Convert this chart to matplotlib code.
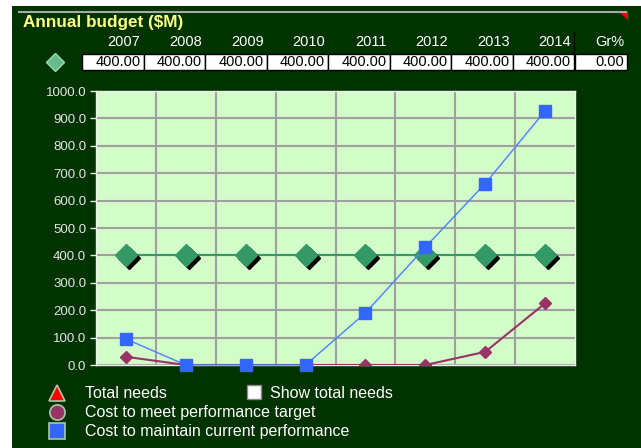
import numpy as np
import matplotlib.pyplot as plt
from matplotlib.patches import Rectangle, Polygon
from matplotlib.transforms import offset_copy

plt.rcParams['font.family'] = ['Liberation Sans', 'DejaVu Sans']

years = ['2007', '2008', '2009', '2010', '2011', '2012', '2013', '2014']
budget = [400.0, 400.0, 400.0, 400.0, 400.0, 400.0, 400.0, 400.0]
growth = 0.00
maintain = [95.0, 0.0, 0.0, 0.0, 190.0, 430.0, 662.0, 927.0]
target = [30.0, 0.0, 0.0, 0.0, 0.0, 0.0, 48.0, 225.0]

W, H = 641, 448
BG = '#003300'
PLOT_BG = '#d2fcc8'
GREEN = '#339966'
BLUE = '#3366ff'
PURPLE = '#993366'


def fx(x):
    return x / W


def fy(y):
    return 1 - y / H


fig = plt.figure(figsize=(W / 100, H / 100), dpi=100, facecolor='white')

# dark panel behind everything
fig.patches.append(Rectangle((fx(12), 0), 1 - fx(12), fy(6), transform=fig.transFigure,
                             facecolor=BG, edgecolor='none', zorder=-5))
# header rule and the little red corner flag
fig.add_artist(plt.Line2D([fx(19), fx(626)], [fy(12), fy(12)], color='#a8a8a8', lw=1.5))
fig.add_artist(Polygon([[fx(619), fy(12)], [fx(628), fy(12)], [fx(628), fy(20)]], closed=True,
                       transform=fig.transFigure, facecolor='#ff0000', edgecolor='none'))

fig.text(fx(23), fy(22), 'Annual budget ($M)', color='#ffff88', fontsize=12.3, fontweight='bold',
         va='center', ha='left')

# budget entry row
box_left, box_w = 82, 61.5
for i, (yr, val) in enumerate(zip(years, budget)):
    x0 = box_left + i * box_w
    fig.text(fx(x0 + box_w - 3), fy(42), yr, color='white', fontsize=10.5, ha='right', va='center')
    fig.patches.append(Rectangle((fx(x0), fy(70)), box_w / W, 16 / H, transform=fig.transFigure,
                                 facecolor='white', edgecolor='black', lw=1))
    fig.text(fx(x0 + box_w - 3), fy(62), '%.2f' % val, color='black', fontsize=10.5,
             ha='right', va='center')
gx = box_left + 8 * box_w
fig.add_artist(plt.Line2D([fx(gx), fx(gx)], [fy(32), fy(54)], color='black', lw=1))
fig.text(fx(gx + 50), fy(42), 'Gr%', color='white', fontsize=10.5, ha='right', va='center')
fig.patches.append(Rectangle((fx(gx + 1), fy(70)), 52 / W, 16 / H, transform=fig.transFigure,
                             facecolor='white', edgecolor='black', lw=1))
fig.text(fx(gx + 50), fy(62), '%.2f' % growth, color='black', fontsize=10.5, ha='right', va='center')
fig.add_artist(plt.Line2D([fx(55)], [fy(62)], marker='D', ms=9, color='#66bb88',
                          markeredgecolor='#99ddaa', lw=0))

# chart
ax = fig.add_axes([fx(96), fy(365), 479 / W, 274 / H], zorder=2)
ax.set_facecolor(PLOT_BG)
x = np.arange(len(years)) + 0.5
ax.set_xlim(0, len(years))
ax.set_ylim(0, 1000)
ax.set_yticks(np.arange(0, 1001, 100))
ax.set_yticklabels(['%.1f' % v for v in np.arange(0, 1001, 100)])
ax.set_xticks(np.arange(1, len(years)))
ax.set_xticklabels([])
ax.grid(True, color='#a0a0a0', lw=1.5)
ax.set_axisbelow(True)
ax.tick_params(axis='y', colors='#e6e6e6', labelsize=9.5, length=4, width=1, pad=3)
ax.tick_params(axis='x', length=0)
for s in ax.spines.values():
    s.set_color('#f0f0f0')
    s.set_linewidth(1)

ax.plot(x, budget, color=GREEN, lw=1.5, zorder=3)
shadow = offset_copy(ax.transData, fig=fig, x=3, y=-3, units='dots')
ax.plot(x, budget, 'D', ms=11, color='black', transform=shadow, zorder=4)
ax.plot(x, budget, 'D', ms=11, color=GREEN, zorder=5)
ax.plot(x, target, color=PURPLE, lw=1.5, marker='D', ms=6, zorder=6)
ax.plot(x, maintain, color='#4d80ff', lw=1, marker='s', ms=8, mfc=BLUE, mec=BLUE, zorder=7,
        clip_on=False)

# legend
leg_items = [('^', '#ff0000', 'Total needs', 393),
             ('o', PURPLE, 'Cost to meet performance target', 412),
             ('s', BLUE, 'Cost to maintain current performance', 431)]
for m, c, label, yy in leg_items:
    fig.add_artist(plt.Line2D([fx(57)], [fy(yy)], marker=m, ms=11, color=c,
                              markeredgecolor='#a8c8a8', mew=1.2, lw=0))
    fig.text(fx(85), fy(yy), label, color='white', fontsize=11.5, ha='left', va='center')
fig.patches.append(Rectangle((fx(247), fy(399)), 14 / W, 14 / H, transform=fig.transFigure,
                             facecolor='white', edgecolor='#888888', lw=1))
fig.text(fx(270), fy(393), 'Show total needs', color='white', fontsize=11.5, ha='left', va='center')

fig.savefig('out.png', dpi=100, facecolor=fig.get_facecolor())
